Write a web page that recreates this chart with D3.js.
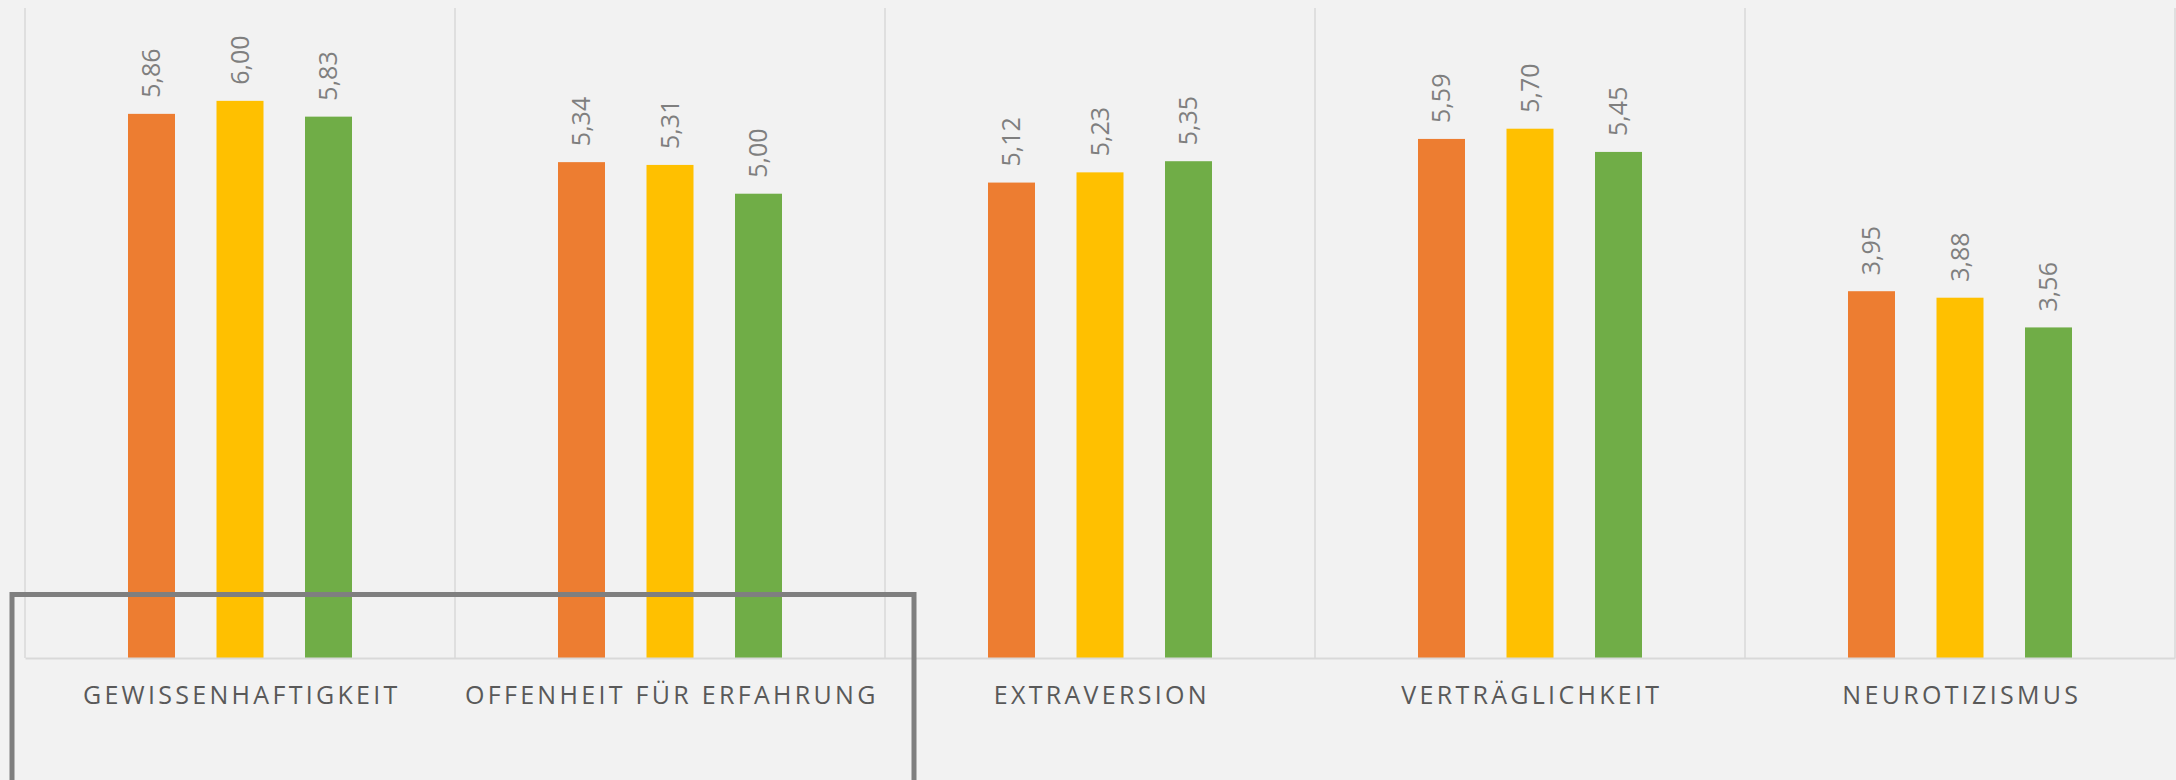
<!DOCTYPE html>
<html lang="de">
<head>
<meta charset="utf-8">
<title>Big Five</title>
<script src="https://cdn.jsdelivr.net/npm/d3@7"></script>
<style>
  html, body { margin: 0; padding: 0; background: #f2f2f2; }
  svg { display: block; }
</style>
</head>
<body>
<div id="bar-chart"></div>
<script>
"use strict";

const categories = ["GEWISSENHAFTIGKEIT", "OFFENHEIT FÜR ERFAHRUNG", "EXTRAVERSION", "VERTRÄGLICHKEIT", "NEUROTIZISMUS"];
const seriesNames = ["Gruppe 1", "Gruppe 2", "Gruppe 3"];
const series1 = [5.86, 5.34, 5.12, 5.59, 3.95];
const series2 = [6.00, 5.31, 5.23, 5.70, 3.88];
const series3 = [5.83, 5.00, 5.35, 5.45, 3.56];
const colors = ["#ed7d31", "#ffc000", "#70ad47"];

const svgWidth = 2176;
const svgHeight = 780;
const plotLeft = 25;
const plotRight = 2175;
const plotTop = 8;
const baseline = 658;

const values = [series1, series2, series3];
const rows = [];
categories.forEach((c, i) => {
  seriesNames.forEach((s, j) => {
    rows.push({ category: c, series: s, value: values[j][i], color: colors[j] });
  });
});

const container = d3.select("#bar-chart")
  .append("svg")
  .attr("width", svgWidth)
  .attr("height", svgHeight)
;

container.append("rect")
  .attr("width", svgWidth)
  .attr("height", svgHeight)
  .attr("fill", "#f2f2f2")
;

const xScale = d3.scaleBand()
  .domain(categories)
  .range([plotLeft, plotRight])
  .padding(0)
;
const innerScale = d3.scaleBand()
  .domain(seriesNames)
  .range([0, xScale.bandwidth()])
  .paddingInner(0.469)
  .paddingOuter(1.164)
;
const yScale = d3.scaleLinear()
  .domain([0, 7])
  .range([baseline, plotTop])
;

// vertical separators between categories
const bounds = categories.map(c => xScale(c)).concat([plotRight]);
container.selectAll("line.grid")
  .data(bounds)
  .enter()
  .append("line")
  .attr("class", "grid")
  .attr("x1", d => d)
  .attr("x2", d => d)
  .attr("y1", yScale(7))
  .attr("y2", yScale(0))
  .attr("stroke", "#d9d9d9")
  .attr("stroke-width", 1.5)
;

container.selectAll("rect.bar")
  .data(rows)
  .enter()
  .append("rect")
  .attr("class", "bar")
  .attr("x", d => xScale(d.category) + innerScale(d.series))
  .attr("y", d => yScale(d.value))
  .attr("width", innerScale.bandwidth())
  .attr("height", d => yScale(0) - yScale(d.value))
  .attr("fill", d => d.color)
;

container.selectAll("text.value")
  .data(rows)
  .enter()
  .append("text")
  .attr("class", "value")
  .attr("transform", d => {
    const cx = xScale(d.category) + innerScale(d.series) + innerScale.bandwidth() / 2;
    return `translate(${cx}, ${yScale(d.value) - 16}) rotate(-90)`;
  })
  .attr("dy", "0.35em")
  .attr("font-family", "Open Sans, sans-serif")
  .attr("font-size", 25)
  .attr("fill", "#7f7f7f")
  .text(d => d3.format(".2f")(d.value).replace(".", ","))
;

const xAxis = d3.axisBottom(xScale).tickSize(0).tickPadding(0);
const axisG = container.append("g")
  .attr("transform", `translate(0, ${baseline})`)
  .call(xAxis)
;
axisG.select(".domain")
  .attr("stroke", "#d9d9d9")
  .attr("stroke-width", 2)
;
axisG.selectAll("text")
  .attr("y", 46)
  .attr("dy", 0)
  .attr("dx", "1.8px")
  .attr("font-family", "Open Sans, sans-serif")
  .attr("font-size", 25)
  .attr("letter-spacing", "3.3px")
  .attr("fill", "#595959")
;

// grey annotation frame
container.append("rect")
  .attr("x", 12)
  .attr("y", 594.5)
  .attr("width", 902)
  .attr("height", 300)
  .attr("fill", "none")
  .attr("stroke", "#7f7f7f")
  .attr("stroke-width", 5)
;
</script>
</body>
</html>
